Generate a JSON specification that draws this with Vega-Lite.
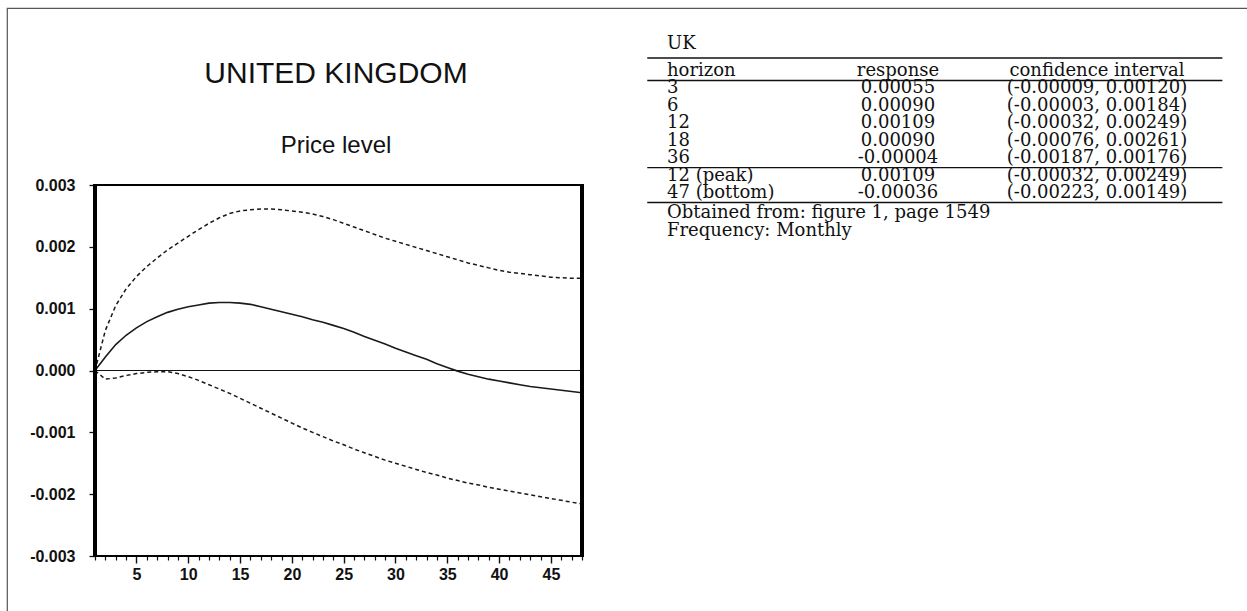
{
  "$schema": "https://vega.github.io/schema/vega-lite/v6.json",
  "width": 1246,
  "height": 609,
  "autosize": "none",
  "padding": {"left": 7, "top": 8, "right": -6, "bottom": -6},
  "background": "white",
  "config": {"view": {"stroke": "#555", "strokeWidth": 1.2}},
  "title": {
    "text": "UNITED KINGDOM",
    "subtitle": "Price level",
    "anchor": "middle",
    "dx": -294,
    "offset": -150,
    "font": "Liberation Sans",
    "fontSize": 30,
    "fontWeight": "normal",
    "color": "#111",
    "subtitleFont": "Liberation Sans",
    "subtitleFontSize": 24,
    "subtitleColor": "#111",
    "subtitlePadding": 45
  },
  "datasets": {
    "irf": [
      {"h": 1, "resp": 0, "lo": 0, "hi": 0},
      {"h": 2, "resp": 0.00022, "lo": -0.00014, "hi": 0.00065},
      {"h": 3, "resp": 0.00042, "lo": -0.00012, "hi": 0.00105},
      {"h": 4, "resp": 0.00057, "lo": -0.00008, "hi": 0.00132},
      {"h": 5, "resp": 0.00069, "lo": -0.00005, "hi": 0.00152},
      {"h": 6, "resp": 0.00079, "lo": -0.00003, "hi": 0.00168},
      {"h": 7, "resp": 0.00087, "lo": -0.00002, "hi": 0.00182},
      {"h": 8, "resp": 0.00094, "lo": -0.00002, "hi": 0.00195},
      {"h": 9, "resp": 0.00099, "lo": -0.00005, "hi": 0.00206},
      {"h": 10, "resp": 0.00103, "lo": -0.0001, "hi": 0.00217},
      {"h": 11, "resp": 0.00106, "lo": -0.00016, "hi": 0.00228},
      {"h": 12, "resp": 0.00109, "lo": -0.00023, "hi": 0.00238},
      {"h": 13, "resp": 0.0011, "lo": -0.0003, "hi": 0.00247},
      {"h": 14, "resp": 0.0011, "lo": -0.00037, "hi": 0.00254},
      {"h": 15, "resp": 0.00109, "lo": -0.00045, "hi": 0.00258},
      {"h": 16, "resp": 0.00107, "lo": -0.00053, "hi": 0.0026},
      {"h": 17, "resp": 0.00103, "lo": -0.00061, "hi": 0.00261},
      {"h": 18, "resp": 0.00099, "lo": -0.00069, "hi": 0.00261},
      {"h": 19, "resp": 0.00095, "lo": -0.00077, "hi": 0.0026},
      {"h": 20, "resp": 0.00091, "lo": -0.00085, "hi": 0.00258},
      {"h": 21, "resp": 0.00087, "lo": -0.00093, "hi": 0.00256},
      {"h": 22, "resp": 0.00082, "lo": -0.001, "hi": 0.00253},
      {"h": 23, "resp": 0.00078, "lo": -0.00107, "hi": 0.00249},
      {"h": 24, "resp": 0.00073, "lo": -0.00114, "hi": 0.00244},
      {"h": 25, "resp": 0.00068, "lo": -0.0012, "hi": 0.00238},
      {"h": 26, "resp": 0.00062, "lo": -0.00127, "hi": 0.00232},
      {"h": 27, "resp": 0.00055, "lo": -0.00133, "hi": 0.00226},
      {"h": 28, "resp": 0.00049, "lo": -0.00139, "hi": 0.0022},
      {"h": 29, "resp": 0.00043, "lo": -0.00145, "hi": 0.00214},
      {"h": 30, "resp": 0.00036, "lo": -0.0015, "hi": 0.00209},
      {"h": 31, "resp": 0.0003, "lo": -0.00155, "hi": 0.00204},
      {"h": 32, "resp": 0.00024, "lo": -0.0016, "hi": 0.00199},
      {"h": 33, "resp": 0.00018, "lo": -0.00165, "hi": 0.00194},
      {"h": 34, "resp": 0.00011, "lo": -0.00169, "hi": 0.00189},
      {"h": 35, "resp": 0.00005, "lo": -0.00174, "hi": 0.00184},
      {"h": 36, "resp": -0.00001, "lo": -0.00178, "hi": 0.00179},
      {"h": 37, "resp": -0.00006, "lo": -0.00182, "hi": 0.00174},
      {"h": 38, "resp": -0.0001, "lo": -0.00185, "hi": 0.0017},
      {"h": 39, "resp": -0.00014, "lo": -0.00189, "hi": 0.00166},
      {"h": 40, "resp": -0.00017, "lo": -0.00192, "hi": 0.00162},
      {"h": 41, "resp": -0.0002, "lo": -0.00195, "hi": 0.00159},
      {"h": 42, "resp": -0.00023, "lo": -0.00198, "hi": 0.00157},
      {"h": 43, "resp": -0.00026, "lo": -0.00201, "hi": 0.00155},
      {"h": 44, "resp": -0.00028, "lo": -0.00204, "hi": 0.00153},
      {"h": 45, "resp": -0.0003, "lo": -0.00207, "hi": 0.00151},
      {"h": 46, "resp": -0.00032, "lo": -0.0021, "hi": 0.0015},
      {"h": 47, "resp": -0.00034, "lo": -0.00213, "hi": 0.00149},
      {"h": 48, "resp": -0.00036, "lo": -0.00216, "hi": 0.00149}
    ],
    "tbl": [
      {"row": 0, "h": "horizon", "r": "response", "ci": "confidence interval"},
      {"row": 1, "h": "3", "r": "0.00055", "ci": "(-0.00009, 0.00120)"},
      {"row": 2, "h": "6", "r": "0.00090", "ci": "(-0.00003, 0.00184)"},
      {"row": 3, "h": "12", "r": "0.00109", "ci": "(-0.00032, 0.00249)"},
      {"row": 4, "h": "18", "r": "0.00090", "ci": "(-0.00076, 0.00261)"},
      {"row": 5, "h": "36", "r": "-0.00004", "ci": "(-0.00187, 0.00176)"},
      {"row": 6, "h": "12 (peak)", "r": "0.00109", "ci": "(-0.00032, 0.00249)"},
      {"row": 7, "h": "47 (bottom)", "r": "-0.00036", "ci": "(-0.00223, 0.00149)"}
    ],
    "notes": [
      {"row": 8, "text": "Obtained from: figure 1, page 1549"},
      {"row": 9, "text": "Frequency: Monthly"}
    ],
    "caption": [{"row": -1, "text": "UK"}],
    "rules": [{"row": 0}, {"row": 5}, {"row": 7}],
    "toprule": [{"row": 0}]
  },
  "layer": [
    {
      "data": {"name": "irf"},
      "layer": [
        {
          "mark": {"type": "line", "color": "#1a1a1a", "strokeWidth": 1.6},
          "encoding": {
            "x": {
              "field": "h", "type": "quantitative",
              "scale": {"domain": [1, 48], "range": [88, 575], "nice": false, "zero": false},
              "axis": {
                "title": null, "orient": "bottom", "offset": -61, "domain": false, "grid": false,
                "values": [5, 10, 15, 20, 25, 30, 35, 40, 45],
                "tickSize": 7, "tickColor": "#111", "tickWidth": 1.4,
                "labelFont": "Liberation Sans", "labelFontSize": 16, "labelFontWeight": "bold",
                "labelColor": "#111", "labelPadding": 3, "labelFlush": false, "labelOverlap": false
              }
            },
            "y": {
              "field": "resp", "type": "quantitative",
              "scale": {"domain": [-0.003, 0.003], "range": [548, 177], "nice": false, "zero": false},
              "axis": {
                "title": null, "orient": "left", "offset": -88, "domain": false, "grid": false,
                "values": [-0.003, -0.002, -0.001, 0, 0.001, 0.002, 0.003],
                "labelExpr": "replace(format(datum.value, '.3f'), '\u2212', '-')",
                "tickSize": 6, "tickColor": "#111", "tickWidth": 1.3,
                "labelFont": "Liberation Sans", "labelFontSize": 16, "labelFontWeight": "bold",
                "labelColor": "#111", "labelPadding": 14, "labelFlush": false, "labelOverlap": false
              }
            }
          }
        },
        {
          "mark": {"type": "line", "color": "#1a1a1a", "strokeWidth": 1.5, "strokeDash": [4, 3]},
          "encoding": {
            "x": {
              "field": "h", "type": "quantitative",
              "axis": {
                "title": null, "orient": "bottom", "offset": -61, "domain": false, "grid": false,
                "values": [1,2,3,4,6,7,8,9,11,12,13,14,16,17,18,19,21,22,23,24,26,27,28,29,31,32,33,34,36,37,38,39,41,42,43,44,46,47,48],
                "tickSize": 4, "tickColor": "#111", "tickWidth": 1.2, "labels": false
              }
            },
            "y": {"field": "hi", "type": "quantitative", "axis": null}
          }
        },
        {
          "mark": {"type": "line", "color": "#1a1a1a", "strokeWidth": 1.5, "strokeDash": [4, 3]},
          "encoding": {
            "x": {"field": "h", "type": "quantitative", "axis": null},
            "y": {"field": "lo", "type": "quantitative", "axis": null}
          }
        },
        {
          "mark": {"type": "rule", "color": "#111", "strokeWidth": 1.2},
          "encoding": {
            "x": {"datum": 1, "type": "quantitative", "axis": null},
            "x2": {"datum": 48},
            "y": {"datum": 0, "type": "quantitative", "axis": null}
          }
        },
        {
          "mark": {"type": "rect", "filled": false, "stroke": "#000", "strokeWidth": 2.2},
          "encoding": {
            "x": {"datum": 1, "type": "quantitative", "axis": null},
            "x2": {"datum": 48},
            "y": {"datum": -0.003, "type": "quantitative", "axis": null},
            "y2": {"datum": 0.003}
          }
        }
      ],
      "resolve": {"axis": {"x": "independent", "y": "independent"}}
    },
    {
      "layer": [
        {
          "data": {"name": "tbl"},
          "mark": {"type": "text", "align": "left", "baseline": "middle", "font": "DejaVu Serif", "fontSize": 18, "color": "#111", "dx": -32},
          "encoding": {
            "x": {"datum": 0, "type": "quantitative", "scale": {"domain": [0, 2], "range": [692, 1090], "nice": false, "zero": false}, "axis": null},
            "y": {"field": "row", "type": "quantitative", "scale": {"domain": [0, 7], "range": [63, 185], "nice": false, "zero": false}, "axis": null},
            "text": {"field": "h"}
          }
        },
        {
          "data": {"name": "tbl"},
          "mark": {"type": "text", "align": "center", "baseline": "middle", "font": "DejaVu Serif", "fontSize": 18, "color": "#111"},
          "encoding": {
            "x": {"datum": 1, "type": "quantitative", "axis": null},
            "y": {"field": "row", "type": "quantitative", "axis": null},
            "text": {"field": "r"}
          }
        },
        {
          "data": {"name": "tbl"},
          "mark": {"type": "text", "align": "center", "baseline": "middle", "font": "DejaVu Serif", "fontSize": 18, "color": "#111"},
          "encoding": {
            "x": {"datum": 2, "type": "quantitative", "axis": null},
            "y": {"field": "row", "type": "quantitative", "axis": null},
            "text": {"field": "ci"}
          }
        },
        {
          "data": {"name": "notes"},
          "mark": {"type": "text", "align": "left", "baseline": "middle", "font": "DejaVu Serif", "fontSize": 18, "color": "#111", "dx": -32, "yOffset": 3},
          "encoding": {
            "x": {"datum": 0, "type": "quantitative", "axis": null},
            "y": {"field": "row", "type": "quantitative", "axis": null},
            "text": {"field": "text"}
          }
        },
        {
          "data": {"name": "caption"},
          "mark": {"type": "text", "align": "left", "baseline": "middle", "font": "DejaVu Serif", "fontSize": 18, "color": "#111", "dx": -32, "yOffset": -10},
          "encoding": {
            "x": {"datum": 0, "type": "quantitative", "axis": null},
            "y": {"field": "row", "type": "quantitative", "axis": null},
            "text": {"field": "text"}
          }
        },
        {
          "data": {"name": "rules"},
          "mark": {"type": "rule", "color": "#111", "strokeWidth": 1.3, "yOffset": 9.5},
          "encoding": {
            "x": {"datum": -0.26, "type": "quantitative", "axis": null},
            "x2": {"datum": 2.63},
            "y": {"field": "row", "type": "quantitative", "axis": null}
          }
        },
        {
          "data": {"name": "toprule"},
          "mark": {"type": "rule", "color": "#111", "strokeWidth": 1.3, "yOffset": -13},
          "encoding": {
            "x": {"datum": -0.26, "type": "quantitative", "axis": null},
            "x2": {"datum": 2.63},
            "y": {"field": "row", "type": "quantitative", "axis": null}
          }
        }
      ]
    }
  ],
  "resolve": {"scale": {"x": "independent", "y": "independent"}, "axis": {"x": "independent", "y": "independent"}}
}
